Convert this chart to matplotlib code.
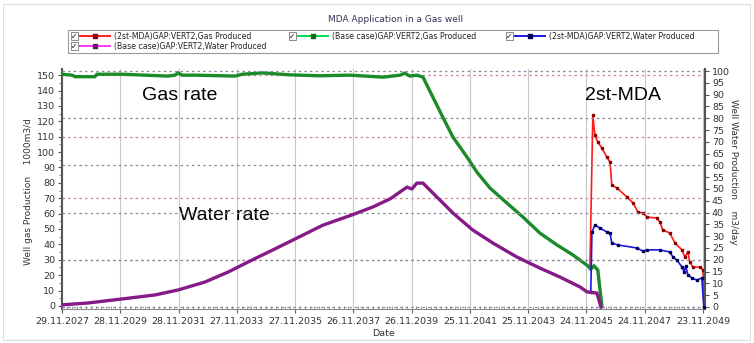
import numpy as np
import matplotlib.pyplot as plt
from matplotlib.lines import Line2D
from matplotlib.patches import Rectangle

# x values are years counted from 29.11.2027
tick_years = [0, 2, 4, 6, 8, 10, 12, 14, 16, 18, 20, 22]
date_labels = ["29.11.2027", "28.11.2029", "28.11.2031", "27.11.2033",
               "27.11.2035", "26.11.2037", "26.11.2039", "25.11.2041",
               "25.11.2043", "24.11.2045", "24.11.2047", "23.11.2049"]

# base case gas (1000 m3/d, left axis)
gas_base_t = [0.00, 0.34, 0.45, 1.13, 1.20, 2.06, 3.64, 3.88, 3.98, 4.12, 4.56,
              5.94, 6.18, 6.62, 6.86, 7.82, 8.85, 9.88, 11.02, 11.60, 11.77,
              11.94, 12.18, 12.39, 12.73, 13.07, 13.42, 13.90, 14.24, 14.69,
              15.27, 15.82, 16.40, 16.99, 17.54, 18.05, 18.15, 18.26, 18.39, 18.53]
gas_base = [150.6, 150.0, 149.0, 149.0, 150.6, 150.6, 149.4, 150.0, 151.5, 150.0,
            150.0, 149.4, 150.6, 151.1, 151.5, 150.2, 149.6, 150.0, 148.7, 150.0,
            151.3, 149.4, 150.0, 148.7, 135.7, 122.7, 109.7, 96.8, 87.0, 76.6,
            66.9, 57.8, 47.4, 39.6, 33.1, 26.0, 24.0, 26.0, 23.4, 0.0]

# 2st-MDA gas
gas_mda_t = [18.12, 18.22, 18.29, 18.39, 18.53, 18.70, 18.81, 18.87, 19.05, 19.39,
             19.60, 19.77, 19.94, 20.08, 20.42, 20.52, 20.62, 20.86, 21.04, 21.28,
             21.38, 21.48, 21.55, 21.65, 21.89, 22.00, 22.03]
gas_mda = [24.5, 124.0, 111.0, 106.5, 102.6, 96.8, 93.5, 78.6, 76.6, 70.8,
           66.9, 61.0, 60.4, 57.8, 57.1, 54.5, 49.4, 47.4, 40.9, 36.4,
           31.8, 35.0, 28.6, 25.3, 25.3, 23.4, 0.0]

# base case water (m3/day, right axis)
water_base_t = [0.00, 0.89, 2.06, 3.19, 3.98, 4.91, 5.70, 6.62, 7.24, 7.93, 8.96,
                9.95, 10.67, 11.26, 11.84, 12.01, 12.18, 12.39, 12.73, 13.42,
                14.10, 14.79, 15.61, 16.40, 17.09, 17.78, 18.02, 18.36, 18.50]
water_base = [0.9, 1.7, 3.4, 5.1, 7.2, 10.6, 14.8, 20.5, 24.2, 28.4, 34.7,
              39.0, 42.4, 45.8, 50.8, 50.0, 52.5, 52.5, 48.3, 39.8,
              32.6, 27.1, 21.2, 16.5, 12.7, 8.5, 6.4, 5.9, 0.0]

# 2st-MDA water
water_mda_t = [18.15, 18.19, 18.29, 18.46, 18.70, 18.81, 18.87, 19.08, 19.73, 19.94,
               20.08, 20.52, 20.86, 20.97, 21.10, 21.28, 21.35, 21.41, 21.48,
               21.62, 21.79, 21.96, 22.03]
water_mda = [6.4, 31.8, 34.7, 33.5, 31.8, 31.4, 27.1, 26.3, 25.0, 23.7,
             24.2, 24.2, 23.3, 21.2, 19.9, 17.0, 14.8, 17.4, 13.6,
             12.3, 11.4, 12.3, 0.0]

labels = ["(2st-MDA)GAP:VERT2,Gas Produced", "(Base case)GAP:VERT2,Gas Produced",
          "(2st-MDA)GAP:VERT2,Water Produced", "(Base case)GAP:VERT2,Water Produced"]

W, H = 754, 343
fig = plt.figure(figsize=(W / 100, H / 100), dpi=100)
ax = fig.add_axes([62 / W, 1 - 309 / H, 643 / W, 240 / H])
ax2 = ax.twinx()

# grid
for t in tick_years:
    ax.axvline(t, color="#c8c8c8", lw=0.8, zorder=0)
for v in [30, 70, 110, 150]:
    ax.axhline(v, color="#c98a8a", lw=0.9, ls=(0, (2, 2.5)), zorder=0)
for v in range(0, 101, 20):
    ax2.axhline(v, color="#8a8aa6", lw=0.9, ls=(0, (2, 2.5)), zorder=0)

# series
ax.plot(gas_mda_t, gas_mda, color="#ff1a1a", lw=1.2, marker="s", ms=2.0,
        mfc="#8b0000", mec="#8b0000", zorder=3)
ax.plot(gas_base_t, gas_base, color="#1b8a2a", lw=2.4, zorder=4,
        solid_joinstyle="miter")
ax2.plot(water_mda_t, water_mda, color="#1a1ae0", lw=1.2, marker="s", ms=2.0,
         mfc="#00005a", mec="#00005a", zorder=3)
ax2.plot(water_base_t, water_base, color="#861a86", lw=2.4, zorder=4)

ax.set_xlim(0, 22.07)
ax.set_ylim(-2, 154)
ax2.set_ylim(-0.85, 100.85)

ax.set_xticks(tick_years)
ax.set_xticklabels(date_labels)
ax.set_xticks(np.arange(0, 22.07, 1 / 6), minor=True)
ax.set_yticks(range(0, 151, 10))
ax.set_yticks(range(0, 151, 5), minor=True)
ax2.set_yticks(range(0, 101, 5))

tick_col = "#333333"
ax.tick_params(axis="x", labelsize=6.8, colors="#666666", labelcolor=tick_col,
               length=3, pad=3)
ax.tick_params(axis="x", which="minor", length=2.5, colors="#888888", direction="in")
ax.tick_params(axis="y", labelsize=6.8, colors="#555555", labelcolor=tick_col,
               length=3, pad=2)
ax.tick_params(axis="y", which="minor", length=2, colors="#777777")
ax2.tick_params(axis="y", labelsize=6.8, colors="#555555", labelcolor=tick_col,
                length=3, pad=2)

for a in (ax, ax2):
    a.spines["top"].set_visible(False)
ax.spines["right"].set_visible(False)
ax2.spines["left"].set_visible(False)
ax2.spines["bottom"].set_visible(False)
ax.spines["left"].set_color("#555555")
ax.spines["left"].set_linewidth(1.5)
ax.spines["bottom"].set_color("#888888")
ax2.spines["right"].set_color("#555555")
ax2.spines["right"].set_linewidth(1.5)

ax.set_xlabel("Date", fontsize=6.8, color=tick_col, labelpad=2)
ax.set_ylabel("Well gas Production    1000m3/d", fontsize=6.5, color=tick_col)
ax.yaxis.set_label_coords(-0.045, 0.49)
ax2.set_ylabel("Well Water Production    m3/day", fontsize=6.5, color=tick_col,
               rotation=270)
ax2.yaxis.set_label_coords(1.052, 0.57)

# annotations
ax.text(2.75, 137, "Gas rate", fontsize=14, family="Liberation Sans", va="center")
ax.text(4.02, 59, "Water rate", fontsize=14, family="Liberation Sans", va="center")
ax.text(17.95, 137, "2st-MDA", fontsize=14, family="Liberation Sans", va="center")

# title
fig.text(396 / W, 1 - 20 / H, "MDA Application in a Gas well", fontsize=6.5,
         color="#33335a", ha="center", va="center")

# legend box drawn like the original control
fig.patches.append(Rectangle((68 / W, 1 - 53 / H), 650 / W, 23 / H,
                             transform=fig.transFigure, fc="white",
                             ec="#9a9a9a", lw=0.8))
styles = [("#ff1a1a", "#8b0000"), ("#00dd55", "#0f6a1a"),
          ("#1a1ae0", "#00005a"), ("#ff33ff", "#6a0f6a")]
slots = [(74, 36), (292, 36), (509, 36), (74, 46)]
for (cx, cy), (lc, mc), lab in zip(slots, styles, labels):
    fig.patches.append(Rectangle(((cx - 3.5) / W, 1 - (cy + 3.5) / H), 7 / W, 7 / H,
                                 transform=fig.transFigure, fc="white",
                                 ec="#777777", lw=0.6))
    fig.text(cx / W, 1 - cy / H, "\u2713", fontsize=5.5, ha="center", va="center",
             color="#111111")
    fig.lines.append(Line2D([(cx + 6) / W, (cx + 36) / W], [1 - cy / H, 1 - cy / H],
                            transform=fig.transFigure, color=lc, lw=1.4))
    fig.lines.append(Line2D([(cx + 21) / W], [1 - cy / H], transform=fig.transFigure,
                            marker="s", ms=2.5, color=mc))
    fig.text((cx + 40) / W, 1 - cy / H, lab, fontsize=5.6, va="center",
             color="#222222")

# faint outer frame
fig.patches.append(Rectangle((3 / W, 3 / H), 747 / W, 336 / H,
                             transform=fig.transFigure, fill=False,
                             ec="#dddddd", lw=0.8))

fig.savefig("out.png", dpi=100)
